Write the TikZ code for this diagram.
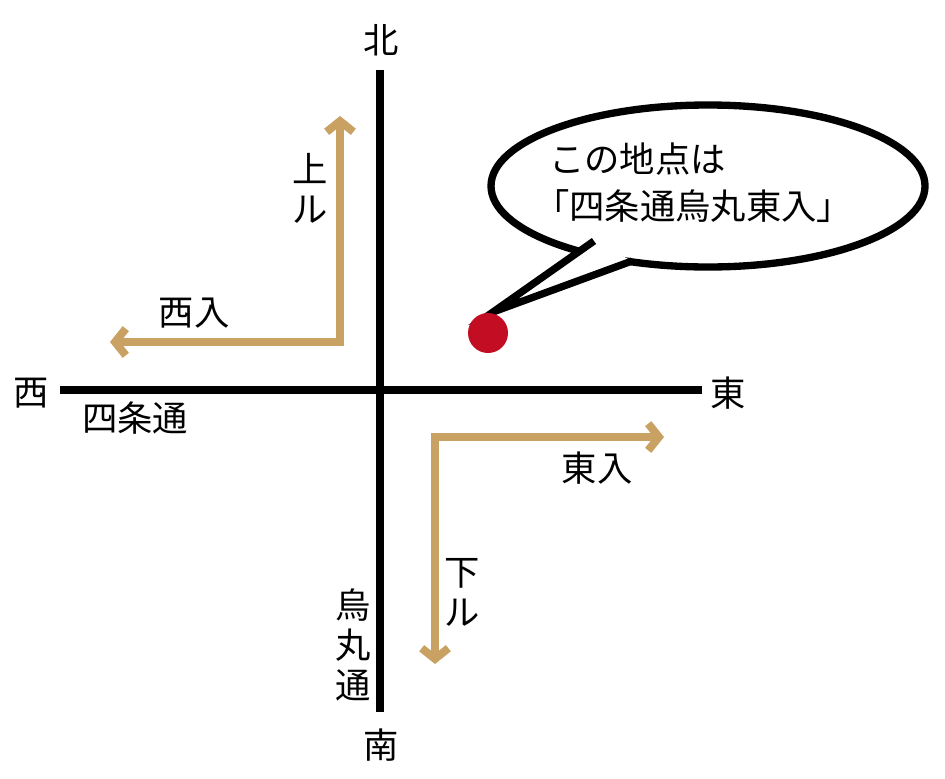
\documentclass[tikz,border=0pt]{standalone}
\usepackage{fontspec}
\setmainfont{Noto Sans CJK JP}
\usetikzlibrary{arrows.meta,shapes.geometric}
\definecolor{tan}{RGB}{201,161,99}
\definecolor{dotred}{RGB}{195,13,35}
\begin{document}
\begin{tikzpicture}[x=0.75pt,y=-0.75pt,
  road/.style={line width=6pt,black},
  barb/.tip={Straight Barb[length=8pt,width=20pt]},
  dirarrow/.style={line width=6pt,tan,barb-barb,miter limit=10},
  lbl/.style={font=\fontsize{26.5}{30}\selectfont,inner sep=0pt},
  bubble/.style={line width=5.5pt,black}]
\useasboundingbox (0,0) rectangle (945,778);
% roads
\draw[road] (380,70) coordinate (n0) -- (380,712) coordinate (s0);
\draw[road] (60,390) coordinate (w0) -- (702,390) coordinate (e0);
% compass labels
\node[lbl] (north) at (381,40) {北};
\node[lbl] (south) at (381,745) {南};
\node[lbl] (west) at (31,393) {西};
\node[lbl] (east) at (728,393) {東};
\node[lbl] (shijo) at (135,418) {四条通};
\node[lbl] (kara1) at (353,605) {烏};
\node[lbl] (kara2) at (353,645) {丸};
\node[lbl] (kara3) at (353,685) {通};
% direction arrows
\coordinate (c1) at (340,342);
\coordinate (up) at (340,116);
\coordinate (left) at (110,342);
\draw[dirarrow] (up) -- (c1) -- (left);
\coordinate (c2) at (435,437);
\coordinate (right) at (664,437);
\coordinate (down) at (435,664);
\draw[dirarrow] (right) -- (c2) -- (down);
\node[lbl] (agaru1) at (310,168) {上};
\node[lbl] (agaru2) at (310,210) {ル};
\node[lbl] (nishiiru) at (194,313) {西入};
\node[lbl] (higashiiru) at (597,468) {東入};
\node[lbl] (sagaru1) at (462,573) {下};
\node[lbl] (sagaru2) at (462,613) {ル};
% callout
\node[bubble,draw,fill=white,ellipse,inner sep=0pt,minimum width=325.5pt,minimum height=121.5pt] (bubble) at (708,186) {};
\coordinate (t1) at (594,241);
\coordinate (tip) at (493,312);
\coordinate (t2) at (632,261);
\fill[white] (t1) -- (tip) -- (t2) -- cycle;
\draw[bubble,line join=miter] (t1) -- (tip) -- (t2);
\node[lbl,anchor=west] (line1) at (549,159) {この地点は};
\node[lbl,anchor=west] (line2) at (534,206) {「四条通烏丸東入」};
\fill[dotred] (488,333) circle (20);
\node (dot) at (488,333) {};
\end{tikzpicture}
\end{document}
